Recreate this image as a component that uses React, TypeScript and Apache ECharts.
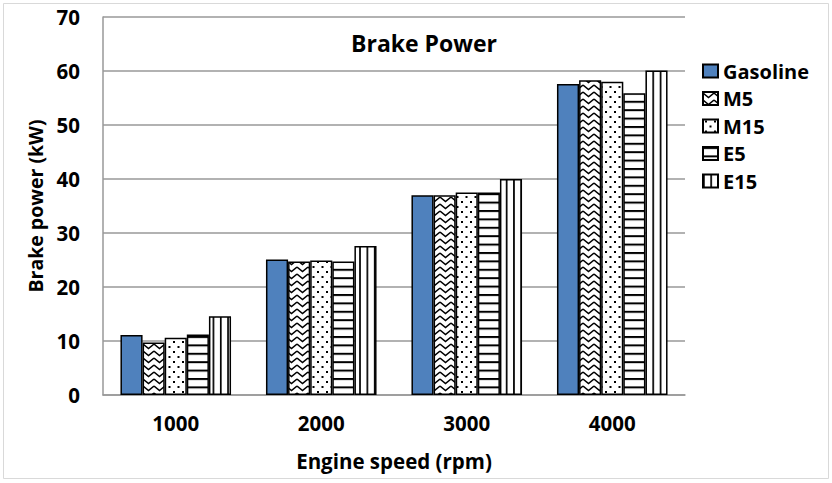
import React, { useEffect, useRef } from "react";
import * as echarts from "echarts";

const categories = ["1000", "2000", "3000", "4000"];
const seriesNames = ["Gasoline", "M5", "M15", "E5", "E15"];
const gasoline = [11.1, 25.1, 37.0, 57.6];
const m5 = [9.7, 24.7, 37.0, 58.3];
const m15 = [10.6, 24.9, 37.5, 58.0];
const e5 = [11.2, 24.7, 37.5, 55.9];
const e15 = [14.6, 27.6, 40.0, 60.1];
const yMin = 0;
const yMax = 70;
const yInterval = 10;

const svgUrl = (w: number, h: number, body: string) =>
  "data:image/svg+xml;charset=utf-8," +
  encodeURIComponent(
    `<svg xmlns='http://www.w3.org/2000/svg' width='${w}' height='${h}'><rect width='${w}' height='${h}' fill='white'/>${body}</svg>`
  );

const pattern = (w: number, h: number, body: string) => ({
  image: svgUrl(w, h, body),
  imageWidth: w,
  imageHeight: h,
  repeat: "repeat",
});

const zigzag = pattern(11, 7, "<polyline points='0,1 5.5,5.5 11,1' fill='none' stroke='black' stroke-width='1.6'/>");
const dots = pattern(9, 10, "<rect x='2' y='1' width='2' height='2' fill='black'/><rect x='6.5' y='6' width='2' height='2' fill='black'/>");
const hstripes = pattern(6, 8.4, "<rect x='0' y='0' width='6' height='2' fill='black'/>");
const vstripes = pattern(7.33, 6, "<rect x='0' y='0' width='1.7' height='6' fill='black'/>");

const FONT = "'Open Sans', sans-serif";

export default function App() {
  const ref = useRef<HTMLDivElement>(null);
  useEffect(() => {
    document.body.style.margin = "0";
    const chart = echarts.init(ref.current!, null, { renderer: "svg" });
    const data = [gasoline, m5, m15, e5, e15];
    const colors: any[] = ["#4f81bd", zigzag, dots, hstripes, vstripes];
    chart.setOption({
      animation: false,
      backgroundColor: "#fff",
      textStyle: { fontFamily: FONT },
      title: {
        text: "Brake Power",
        left: 419,
        textAlign: "center",
        top: 26,
        textStyle: { fontFamily: FONT, fontWeight: "bold", fontSize: 23, color: "#000" },
      },
      graphic: [
        {
          type: "rect",
          shape: { x: 3.5, y: 3.5, width: 825, height: 475 },
          style: { fill: "none", stroke: "#d9d9d9", lineWidth: 1 },
          silent: true,
        },
      ],
      legend: {
        orient: "vertical",
        left: 697,
        top: 56,
        icon: "rect",
        itemWidth: 15,
        itemHeight: 13,
        itemGap: 7.5,
        textStyle: {
          fontFamily: FONT,
          fontWeight: "bold",
          fontSize: 20,
          lineHeight: 20,
          color: "#000",
          padding: [0, 0, 0, 0],
        },
        data: seriesNames,
      },
      grid: { left: 103, right: 147, top: 17, bottom: 88, containLabel: false },
      xAxis: {
        type: "category",
        data: categories,
        name: "Engine speed (rpm)",
        nameLocation: "middle",
        nameGap: 55,
        nameTextStyle: { fontFamily: FONT, fontWeight: "bold", fontSize: 20.5, color: "#000" },
        axisLine: { lineStyle: { color: "#999", width: 1.5 } },
        axisTick: { show: false },
        axisLabel: { fontFamily: FONT, fontWeight: "bold", fontSize: 20.5, color: "#000", margin: 17 },
      },
      yAxis: {
        type: "value",
        min: yMin,
        max: yMax,
        interval: yInterval,
        name: "Brake power (kW)",
        nameLocation: "middle",
        nameGap: 57,
        nameTextStyle: { fontFamily: FONT, fontWeight: "bold", fontSize: 19.5, color: "#000" },
        axisLine: { show: true, lineStyle: { color: "#999", width: 1.5 } },
        axisTick: { show: false },
        splitLine: { lineStyle: { color: "#999", width: 1.5 } },
        axisLabel: { fontFamily: FONT, fontWeight: "bold", fontSize: 20.5, color: "#000", margin: 23 },
      },
      series: seriesNames.map((name, i) => ({
        name,
        type: "bar",
        data: data[i],
        barGap: "0%",
        barCategoryGap: "24%",
        itemStyle: { color: colors[i], borderColor: "#000", borderWidth: 1.5 },
      })),
    });
    return () => chart.dispose();
  }, []);
  return <div ref={ref} style={{ position: "absolute", left: 0, top: 0, width: 832, height: 483 }} />;
}
